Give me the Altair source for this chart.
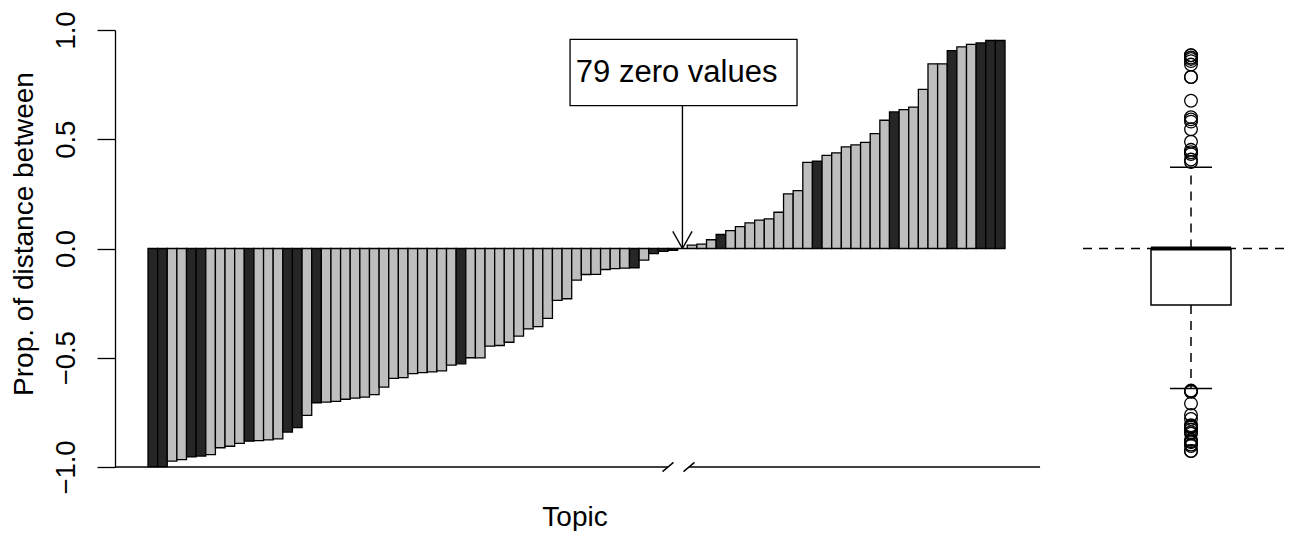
import altair as alt
import pandas as pd

# ---- data ----
neg_values = [-0.998, -0.998, -0.973, -0.966, -0.954, -0.950, -0.943, -0.912, -0.905, -0.892,
              -0.882, -0.879, -0.876, -0.871, -0.840, -0.820, -0.764, -0.706, -0.703, -0.700,
              -0.690, -0.685, -0.680, -0.669, -0.634, -0.594, -0.591, -0.573, -0.568, -0.565,
              -0.560, -0.534, -0.528, -0.500, -0.501, -0.447, -0.444, -0.429, -0.401, -0.368,
              -0.358, -0.320, -0.237, -0.230, -0.145, -0.119, -0.118, -0.096, -0.092, -0.090,
              -0.088, -0.053, -0.023, -0.013, -0.008]
neg_shade = (["dark", "dark", "light", "light", "dark", "dark", "light", "light", "light", "light",
              "dark", "light", "light", "light", "dark", "dark", "light", "dark"]
             + ["light"] * 14 + ["dark"] + ["light"] * 17
             + ["dark", "light", "dark", "dark", "dark"])
n_zero = 79          # the "79 zero values", drawn as one collapsed slot
zero_shade = ["light"]
pos_values = [0.015, 0.020, 0.040, 0.064, 0.082, 0.100, 0.117, 0.130, 0.136, 0.166,
              0.250, 0.265, 0.394, 0.400, 0.426, 0.438, 0.465, 0.474, 0.486, 0.526,
              0.587, 0.625, 0.636, 0.647, 0.728, 0.845, 0.845, 0.906, 0.923, 0.934,
              0.941, 0.952, 0.952]
pos_shade = (["light"] * 3 + ["dark"] + ["light"] * 9 + ["dark"] + ["light"] * 7 + ["dark"]
             + ["light"] * 5 + ["dark"] + ["light"] * 2 + ["dark"] * 3)

y_ticks = [-1.0, -0.5, 0.0, 0.5, 1.0]
annotation_text = "79 zero values"
x_title = "Topic"
y_title = "Prop. of distance between"

# ---- tables ----
bar_values = neg_values + [0.0] + pos_values
bar_shade = neg_shade + zero_shade + pos_shade
bar_df = pd.DataFrame({
    "slot": list(range(len(bar_values))),
    "value": bar_values,
    "shade": bar_shade,
})
bar_df["slot_end"] = bar_df["slot"] + 1

box_df = pd.DataFrame({"v": neg_values + [0.0] * n_zero + pos_values})

zero_slot = len(neg_values) + 0.5

# annotation geometry (in data units of the bar panel)
seg_df = pd.DataFrame([
    {"x": -3.427, "x2": 54.0, "y": -1.0, "y2": -1.0},           # x axis line, left part
    {"x": 56.18, "x2": 92.64, "y": -1.0, "y2": -1.0},           # x axis line, right part
    {"x": 53.43, "x2": 54.57, "y": -1.021, "y2": -0.979},       # break slash 1
    {"x": 55.61, "x2": 56.75, "y": -1.021, "y2": -0.979},       # break slash 2
    {"x": zero_slot, "x2": zero_slot, "y": 0.655, "y2": 0.0},   # arrow shaft
    {"x": zero_slot, "x2": zero_slot - 1.0, "y": 0.0, "y2": 0.078},
    {"x": zero_slot, "x2": zero_slot + 1.0, "y": 0.0, "y2": 0.078},
])
label_box_df = pd.DataFrame([{"x": 43.83, "x2": 67.4, "y": 0.957, "y2": 0.654}])
label_df = pd.DataFrame([{"x": 54.9, "y": 0.805, "text": annotation_text}])
xtitle_df = pd.DataFrame([{"text": x_title}])

FONT = "Liberation Sans"
xs = alt.Scale(domain=[-3.427, 118.49], nice=False, zero=False)
ys = alt.Scale(domain=[-1, 1], nice=False, zero=False)
bs = alt.Scale(domain=[-1.0764, 1.0764], nice=False, zero=False)

yaxis = alt.Axis(values=y_ticks, format=".1f", tickSize=18, tickWidth=1.3, tickColor="black",
                 domainColor="black", domainWidth=1.3, labelFont=FONT, labelFontSize=27.5,
                 labelColor="black", labelAngle=270, labelAlign="center",
                 labelBaseline="alphabetic", labelPadding=23, labelOverlap=False,
                 labelFlush=False, grid=False, title=y_title, titleFont=FONT,
                 titleFontSize=28, titleFontWeight="normal", titleColor="black",
                 titleAngle=270, titleX=-83, titleY=203.5, titleAlign="center",
                 titleBaseline="alphabetic")

bars = alt.Chart(bar_df).mark_bar(stroke="black", strokeWidth=1.3).encode(
    x=alt.X("slot:Q", scale=xs, axis=None),
    x2="slot_end:Q",
    y=alt.Y("value:Q", scale=ys, axis=yaxis),
    y2=alt.datum(0),
    color=alt.Color("shade:N", scale=alt.Scale(domain=["dark", "light"],
                                               range=["#262626", "#bebebe"]), legend=None),
)

segs = alt.Chart(seg_df).mark_rule(color="black", strokeWidth=1.4).encode(
    x=alt.X("x:Q", scale=xs, axis=None), x2="x2:Q",
    y=alt.Y("y:Q", scale=ys, axis=None), y2="y2:Q",
)
label_box = alt.Chart(label_box_df).mark_rect(fill="white", stroke="black", strokeWidth=1.3).encode(
    x=alt.X("x:Q", scale=xs, axis=None), x2="x2:Q",
    y=alt.Y("y:Q", scale=ys, axis=None), y2="y2:Q",
)
label = alt.Chart(label_df).mark_text(font=FONT, fontSize=31, color="black",
                                      align="center", baseline="middle").encode(
    x=alt.X("x:Q", scale=xs, axis=None),
    y=alt.Y("y:Q", scale=ys, axis=None),
    text="text:N",
)
x_title_mark = alt.Chart(xtitle_df).mark_text(font=FONT, fontSize=28, color="black",
                                              align="center", baseline="alphabetic").encode(
    x=alt.value(460), y=alt.value(496), text="text:N",
)
zero_line = alt.Chart(label_df).mark_rule(color="black", strokeWidth=1.4,
                                          strokeDash=[9, 7]).encode(
    y=alt.YDatum(0, scale=ys, axis=None), x=alt.value(968), x2=alt.value(1182),
)

# ---- boxplot of all values (including zeros) ----
box_base = alt.Chart(box_df)
stats = box_base.transform_aggregate(q1="q1(v)", q3="q3(v)", med="median(v)")
fences = box_base.transform_joinaggregate(q1="q1(v)", q3="q3(v)").transform_calculate(
    lo="datum.q1 - 1.5 * (datum.q3 - datum.q1)",
    hi="datum.q3 + 1.5 * (datum.q3 - datum.q1)",
)
inside = fences.transform_filter("datum.v >= datum.lo && datum.v <= datum.hi").transform_aggregate(
    wlo="min(v)", whi="max(v)", q1="max(q1)", q3="max(q3)")

box_rect = stats.mark_rect(fill="white", stroke="black", strokeWidth=1.5).encode(
    y=alt.Y("q3:Q", scale=bs, axis=None), y2="q1:Q",
    x=alt.value(1036), x2=alt.value(1116))
median = stats.mark_rule(color="black", strokeWidth=4).encode(
    y=alt.Y("med:Q", scale=bs, axis=None), x=alt.value(1036), x2=alt.value(1116))
up_wh = inside.mark_rule(color="black", strokeWidth=1.5, strokeDash=[9, 7]).encode(
    y=alt.Y("q3:Q", scale=bs, axis=None), y2="whi:Q", x=alt.value(1076))
lo_wh = inside.mark_rule(color="black", strokeWidth=1.5, strokeDash=[9, 7]).encode(
    y=alt.Y("q1:Q", scale=bs, axis=None), y2="wlo:Q", x=alt.value(1076))
up_cap = inside.mark_rule(color="black", strokeWidth=1.5).encode(
    y=alt.Y("whi:Q", scale=bs, axis=None), x=alt.value(1055), x2=alt.value(1097))
lo_cap = inside.mark_rule(color="black", strokeWidth=1.5).encode(
    y=alt.Y("wlo:Q", scale=bs, axis=None), x=alt.value(1055), x2=alt.value(1097))
outliers = fences.transform_filter("datum.v < datum.lo || datum.v > datum.hi").mark_point(
    shape="circle", size=160, filled=False, color="black", strokeWidth=1.3, opacity=1).encode(
    y=alt.Y("v:Q", scale=bs, axis=None), x=alt.value(1076))

chart = alt.layer(
    bars, zero_line, segs, label_box, label, x_title_mark,
    up_wh, lo_wh, box_rect, median, up_cap, lo_cap, outliers,
).resolve_scale(y="independent").properties(
    width=1174, height=437,
    autosize=alt.AutoSizeParams(type="none"),
    padding={"left": 107, "top": 22, "right": 0, "bottom": 64},
    background="white",
).configure(font=FONT).configure_view(stroke=None)

chart.save("out.html", embed_options={"renderer": "svg", "actions": False})
